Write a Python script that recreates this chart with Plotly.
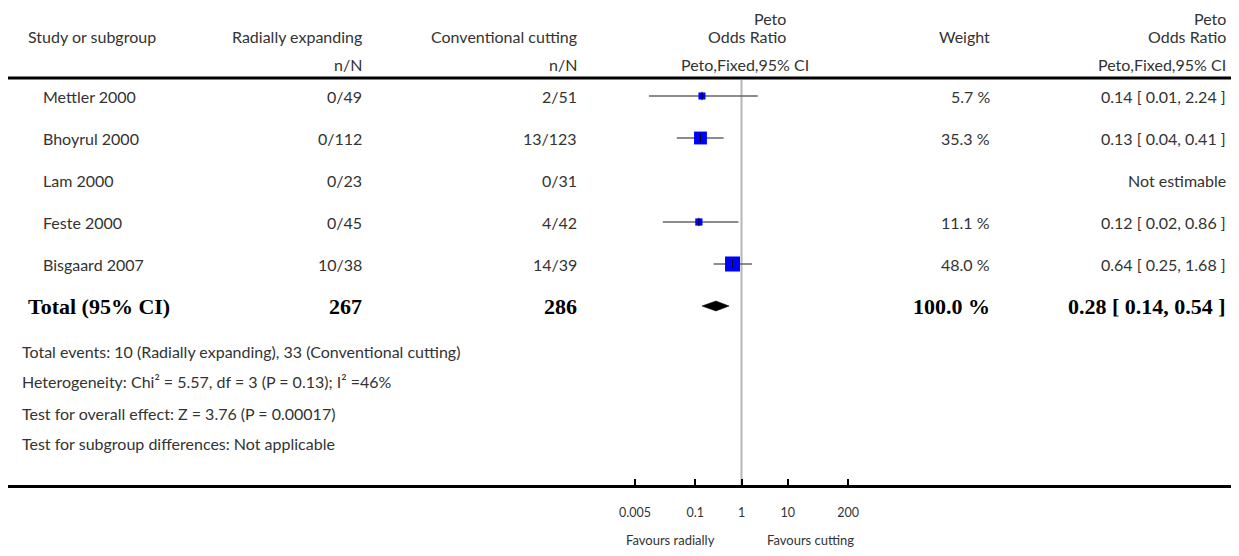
import math
import plotly.graph_objects as go

# ---------------- data ----------------
studies = ["Mettler 2000", "Bhoyrul 2000", "Lam 2000", "Feste 2000", "Bisgaard 2007"]
radial_nN = ["0/49", "0/112", "0/23", "0/45", "10/38"]
cutting_nN = ["2/51", "13/123", "0/31", "4/42", "14/39"]
odds_ratio = [0.14, 0.13, None, 0.12, 0.64]
ci_low = [0.01, 0.04, None, 0.02, 0.25]
ci_high = [2.24, 0.41, None, 0.86, 1.68]
weights = [5.7, 35.3, None, 11.1, 48.0]
result_text = ["0.14 [ 0.01, 2.24 ]", "0.13 [ 0.04, 0.41 ]", "Not estimable",
               "0.12 [ 0.02, 0.86 ]", "0.64 [ 0.25, 1.68 ]"]
total_label = "Total (95% CI)"
total_radial = "267"
total_cutting = "286"
total_or = 0.28
total_low = 0.14
total_high = 0.54
total_weight = "100.0 %"
total_text = "0.28 [ 0.14, 0.54 ]"
footnotes = [
    "Total events: 10 (Radially expanding), 33 (Conventional cutting)",
    "Heterogeneity: Chi² = 5.57, df = 3 (P = 0.13); I² =46%",
    "Test for overall effect: Z = 3.76 (P = 0.00017)",
    "Test for subgroup differences: Not applicable",
]
tick_vals = [0.005, 0.1, 1, 10, 200]
tick_text = ["0.005", "0.1", "1", "10", "200"]
favours_left = "Favours radially"
favours_right = "Favours cutting"

# ---------------- layout helpers ----------------
# page body has an 8px margin; figure sized to fit the window exactly
M = 8
WIN_W, WIN_H = 1239, 556
W, H = WIN_W - 2 * M, WIN_H - 2 * M
FONT = "Lato"
SERIF = "Liberation Serif"
TXT = "#333333"
FS = 16

def px(x):  # window pixel -> paper fraction
    return (x - M) / W

def py(y):
    return 1 - (y - M) / H

# x mapping (window px): pixel = 741.5 + 46.3*log10(v)
X0, X1 = 8, 1231
C, S = 741.5, 46.3
xr = [(X0 - C) / S, (X1 - C) / S]
# y mapping (window px): row pixel = 96 + 42*row ; axis spans M..485
R0, RS, AX_BOTTOM = 96, 42.0, 485
yr = [(AX_BOTTOM - R0) / RS, (M - R0) / RS]

fig = go.Figure()

for i, (o, lo, hi, w) in enumerate(zip(odds_ratio, ci_low, ci_high, weights)):
    if o is None:
        continue
    fig.add_trace(go.Scatter(x=[lo, hi], y=[i, i], mode="lines",
                             line=dict(color="#666666", width=1.6),
                             hoverinfo="skip", showlegend=False))
    size = max(7, 15 * math.sqrt(w / 48.0))
    fig.add_trace(go.Scatter(x=[o], y=[i], mode="markers",
                             marker=dict(symbol="square", size=size, color="#0000ff",
                                         line=dict(width=0)),
                             hoverinfo="skip", showlegend=False))
    fig.add_trace(go.Scatter(x=[o], y=[i], mode="markers",
                             marker=dict(symbol="line-ns-open", size=6, color="black",
                                         line=dict(color="black", width=1)),
                             hoverinfo="skip", showlegend=False))

tr = len(studies)
dh = 5 / RS
fig.add_trace(go.Scatter(x=[total_low, total_or, total_high, total_or, total_low],
                         y=[tr, tr - dh, tr, tr + dh, tr], mode="lines",
                         fill="toself", fillcolor="black",
                         line=dict(color="black", width=0.5),
                         hoverinfo="skip", showlegend=False))

ann = []

def add(text, x, y, xanchor="left", yref="paper", size=FS, family=FONT, color=TXT,
        yanchor="middle"):
    ann.append(dict(text=text, x=px(x), y=(py(y) if yref == "paper" else y), xref="paper",
                    yref=yref, xanchor=xanchor, yanchor=yanchor, showarrow=False,
                    borderpad=0, font=dict(family=family, size=size, color=color)))

# header
add("Study or subgroup", 27, 37)
add("Radially expanding", 363, 37, "right")
add("Conventional cutting", 578, 37, "right")
add("n/N", 363, 64, "right")
add("n/N", 578, 64, "right")
add("Peto", 787, M, "right", yanchor="top")
add("Odds Ratio", 787, 37, "right")
add("Peto,Fixed,95% CI", 745, 64, "center")
add("Weight", 991, 37, "right")
add("Peto", 1227, M, "right", yanchor="top")
add("Odds Ratio", 1227, 37, "right")
add("Peto,Fixed,95% CI", 1227, 64, "right")

for i in range(len(studies)):
    add(studies[i], 42, i, yref="y")
    add(radial_nN[i], 363, i, "right", yref="y")
    add(cutting_nN[i], 578, i, "right", yref="y")
    if weights[i] is not None:
        add(f"{weights[i]:.1f} %", 991, i, "right", yref="y")
    add(result_text[i], 1227, i, "right", yref="y")

BOLD = dict(family=SERIF, size=22, color="black")
for text, x, xa in [(total_label, 27, "left"), (total_radial, 363, "right"),
                    (total_cutting, 578, "right"), (total_weight, 991, "right"),
                    (total_text, 1227, "right")]:
    ann.append(dict(text=f"<b>{text}</b>", x=px(x), y=tr, xref="paper", yref="y",
                    xanchor=xa, yanchor="middle", showarrow=False, borderpad=0, font=BOLD))

for text, y in zip(footnotes, [351, 382, 413, 443]):
    add(text, 21, y)

add(favours_left, 670, 540, "center", size=13)
add(favours_right, 810, 540, "center", size=13)

shapes = [
    dict(type="line", xref="paper", yref="paper", x0=px(X0), x1=px(X1), y0=py(78), y1=py(78),
         line=dict(color="black", width=3)),
    dict(type="line", xref="x", yref="paper", x0=1, x1=1, y0=py(80), y1=py(AX_BOTTOM),
         line=dict(color="#b5b5b5", width=2), layer="below"),
]

fig.update_layout(
    width=W, height=H, margin=dict(l=0, r=0, t=0, b=0),
    paper_bgcolor="white", plot_bgcolor="white",
    annotations=ann, shapes=shapes, showlegend=False,
    xaxis=dict(type="log", range=xr, domain=[px(X0), px(X1)], showgrid=False, zeroline=False,
               showline=True, linecolor="black", linewidth=3,
               tickmode="array", tickvals=tick_vals, ticktext=tick_text,
               ticks="inside", ticklen=6, tickwidth=2, tickcolor="black",
               tickfont=dict(family=FONT, size=12.5, color=TXT), ticklabelstandoff=14),
    yaxis=dict(range=yr, domain=[1 - (AX_BOTTOM - M) / H, 1], visible=False),
)

fig.write_html("out.html")
